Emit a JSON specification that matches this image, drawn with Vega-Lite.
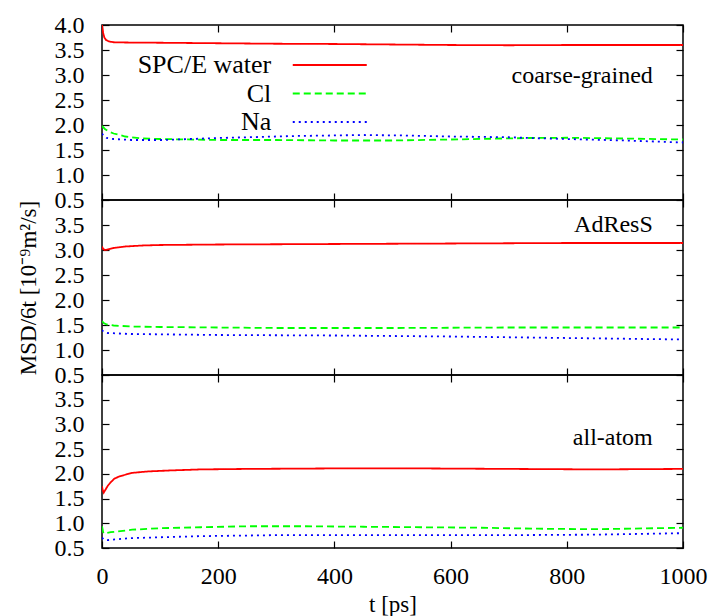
{
  "$schema": "https://vega.github.io/schema/vega-lite/v6.json",
  "padding": {"left": 16, "top": 12, "right": 5, "bottom": 2},
  "bounds": "flush",
  "spacing": 0,
  "config": {
    "font": "Liberation Serif",
    "view": {"stroke": "black", "strokeWidth": 1.5},
    "axis": {
      "grid": false, "domain": false, "tickColor": "black", "tickSize": -7, "tickWidth": 1.2,
      "labelFont": "Liberation Serif", "labelFontSize": 24, "labelColor": "black",
      "titleFont": "Liberation Serif", "titleFontSize": 23, "titleColor": "black", "titleFontWeight": "normal",
      "labelOverlap": false, "labelFlush": false
    },
    "text": {"font": "Liberation Serif", "fontSize": 24, "color": "black"}
  },
  "resolve": {"scale": {"color": "independent", "strokeDash": "independent"}},
  "datasets": {
    "msd": [
      {"p":"cg","s":"SPC/E water","t":0,"v":4.0},
      {"p":"cg","s":"SPC/E water","t":1,"v":3.92},
      {"p":"cg","s":"SPC/E water","t":2,"v":3.84},
      {"p":"cg","s":"SPC/E water","t":4,"v":3.75},
      {"p":"cg","s":"SPC/E water","t":7,"v":3.70},
      {"p":"cg","s":"SPC/E water","t":12,"v":3.67},
      {"p":"cg","s":"SPC/E water","t":20,"v":3.655},
      {"p":"cg","s":"SPC/E water","t":40,"v":3.65},
      {"p":"cg","s":"SPC/E water","t":100,"v":3.645},
      {"p":"cg","s":"SPC/E water","t":200,"v":3.635},
      {"p":"cg","s":"SPC/E water","t":300,"v":3.625},
      {"p":"cg","s":"SPC/E water","t":400,"v":3.62},
      {"p":"cg","s":"SPC/E water","t":500,"v":3.61},
      {"p":"cg","s":"SPC/E water","t":600,"v":3.60},
      {"p":"cg","s":"SPC/E water","t":700,"v":3.595},
      {"p":"cg","s":"SPC/E water","t":800,"v":3.60},
      {"p":"cg","s":"SPC/E water","t":900,"v":3.60},
      {"p":"cg","s":"SPC/E water","t":1000,"v":3.60},
      {"p":"cg","s":"Cl","t":0,"v":1.98},
      {"p":"cg","s":"Cl","t":5,"v":1.92},
      {"p":"cg","s":"Cl","t":10,"v":1.88},
      {"p":"cg","s":"Cl","t":20,"v":1.83},
      {"p":"cg","s":"Cl","t":40,"v":1.77},
      {"p":"cg","s":"Cl","t":70,"v":1.73},
      {"p":"cg","s":"Cl","t":100,"v":1.72},
      {"p":"cg","s":"Cl","t":200,"v":1.70},
      {"p":"cg","s":"Cl","t":300,"v":1.70},
      {"p":"cg","s":"Cl","t":400,"v":1.69},
      {"p":"cg","s":"Cl","t":500,"v":1.69},
      {"p":"cg","s":"Cl","t":600,"v":1.71},
      {"p":"cg","s":"Cl","t":735,"v":1.74},
      {"p":"cg","s":"Cl","t":800,"v":1.745},
      {"p":"cg","s":"Cl","t":900,"v":1.73},
      {"p":"cg","s":"Cl","t":1000,"v":1.71},
      {"p":"cg","s":"Na","t":0,"v":1.83},
      {"p":"cg","s":"Na","t":3,"v":1.78},
      {"p":"cg","s":"Na","t":8,"v":1.74},
      {"p":"cg","s":"Na","t":20,"v":1.72},
      {"p":"cg","s":"Na","t":50,"v":1.70},
      {"p":"cg","s":"Na","t":105,"v":1.70},
      {"p":"cg","s":"Na","t":200,"v":1.74},
      {"p":"cg","s":"Na","t":334,"v":1.78},
      {"p":"cg","s":"Na","t":450,"v":1.80},
      {"p":"cg","s":"Na","t":520,"v":1.79},
      {"p":"cg","s":"Na","t":600,"v":1.77},
      {"p":"cg","s":"Na","t":700,"v":1.755},
      {"p":"cg","s":"Na","t":735,"v":1.74},
      {"p":"cg","s":"Na","t":800,"v":1.72},
      {"p":"cg","s":"Na","t":900,"v":1.69},
      {"p":"cg","s":"Na","t":1000,"v":1.65},
      {"p":"ad","s":"SPC/E water","t":0,"v":3.07},
      {"p":"ad","s":"SPC/E water","t":2,"v":3.02},
      {"p":"ad","s":"SPC/E water","t":5,"v":3.0},
      {"p":"ad","s":"SPC/E water","t":10,"v":3.01},
      {"p":"ad","s":"SPC/E water","t":20,"v":3.04},
      {"p":"ad","s":"SPC/E water","t":40,"v":3.07},
      {"p":"ad","s":"SPC/E water","t":70,"v":3.09},
      {"p":"ad","s":"SPC/E water","t":100,"v":3.10},
      {"p":"ad","s":"SPC/E water","t":200,"v":3.11},
      {"p":"ad","s":"SPC/E water","t":400,"v":3.12},
      {"p":"ad","s":"SPC/E water","t":600,"v":3.13},
      {"p":"ad","s":"SPC/E water","t":800,"v":3.14},
      {"p":"ad","s":"SPC/E water","t":1000,"v":3.14},
      {"p":"ad","s":"Cl","t":0,"v":1.58},
      {"p":"ad","s":"Cl","t":3,"v":1.54},
      {"p":"ad","s":"Cl","t":8,"v":1.51},
      {"p":"ad","s":"Cl","t":20,"v":1.49},
      {"p":"ad","s":"Cl","t":50,"v":1.47},
      {"p":"ad","s":"Cl","t":100,"v":1.46},
      {"p":"ad","s":"Cl","t":300,"v":1.44},
      {"p":"ad","s":"Cl","t":500,"v":1.44},
      {"p":"ad","s":"Cl","t":700,"v":1.45},
      {"p":"ad","s":"Cl","t":1000,"v":1.45},
      {"p":"ad","s":"Na","t":0,"v":1.40},
      {"p":"ad","s":"Na","t":3,"v":1.36},
      {"p":"ad","s":"Na","t":10,"v":1.34},
      {"p":"ad","s":"Na","t":50,"v":1.32},
      {"p":"ad","s":"Na","t":200,"v":1.30},
      {"p":"ad","s":"Na","t":400,"v":1.29},
      {"p":"ad","s":"Na","t":600,"v":1.27},
      {"p":"ad","s":"Na","t":800,"v":1.24},
      {"p":"ad","s":"Na","t":1000,"v":1.21},
      {"p":"aa","s":"SPC/E water","t":0,"v":1.75},
      {"p":"aa","s":"SPC/E water","t":1,"v":1.68},
      {"p":"aa","s":"SPC/E water","t":3,"v":1.62},
      {"p":"aa","s":"SPC/E water","t":6,"v":1.68},
      {"p":"aa","s":"SPC/E water","t":10,"v":1.76},
      {"p":"aa","s":"SPC/E water","t":15,"v":1.83},
      {"p":"aa","s":"SPC/E water","t":21,"v":1.90},
      {"p":"aa","s":"SPC/E water","t":30,"v":1.95},
      {"p":"aa","s":"SPC/E water","t":52,"v":2.02},
      {"p":"aa","s":"SPC/E water","t":80,"v":2.05},
      {"p":"aa","s":"SPC/E water","t":120,"v":2.07},
      {"p":"aa","s":"SPC/E water","t":170,"v":2.09},
      {"p":"aa","s":"SPC/E water","t":250,"v":2.10},
      {"p":"aa","s":"SPC/E water","t":400,"v":2.11},
      {"p":"aa","s":"SPC/E water","t":550,"v":2.11},
      {"p":"aa","s":"SPC/E water","t":700,"v":2.10},
      {"p":"aa","s":"SPC/E water","t":850,"v":2.09},
      {"p":"aa","s":"SPC/E water","t":1000,"v":2.10},
      {"p":"aa","s":"Cl","t":0,"v":0.94},
      {"p":"aa","s":"Cl","t":2,"v":0.82},
      {"p":"aa","s":"Cl","t":4,"v":0.79},
      {"p":"aa","s":"Cl","t":15,"v":0.82},
      {"p":"aa","s":"Cl","t":52,"v":0.87},
      {"p":"aa","s":"Cl","t":100,"v":0.90},
      {"p":"aa","s":"Cl","t":170,"v":0.92},
      {"p":"aa","s":"Cl","t":250,"v":0.94},
      {"p":"aa","s":"Cl","t":350,"v":0.94},
      {"p":"aa","s":"Cl","t":450,"v":0.93},
      {"p":"aa","s":"Cl","t":550,"v":0.92},
      {"p":"aa","s":"Cl","t":650,"v":0.91},
      {"p":"aa","s":"Cl","t":750,"v":0.89},
      {"p":"aa","s":"Cl","t":850,"v":0.88},
      {"p":"aa","s":"Cl","t":1000,"v":0.91},
      {"p":"aa","s":"Na","t":0,"v":0.71},
      {"p":"aa","s":"Na","t":3,"v":0.67},
      {"p":"aa","s":"Na","t":10,"v":0.66},
      {"p":"aa","s":"Na","t":50,"v":0.70},
      {"p":"aa","s":"Na","t":170,"v":0.74},
      {"p":"aa","s":"Na","t":300,"v":0.76},
      {"p":"aa","s":"Na","t":500,"v":0.76},
      {"p":"aa","s":"Na","t":700,"v":0.76},
      {"p":"aa","s":"Na","t":850,"v":0.77},
      {"p":"aa","s":"Na","t":1000,"v":0.80}
    ]
  },
  "vconcat": [
    {
      "width": 581, "height": 175,
      "layer": [
        {
          "data": {"name": "msd"},
          "transform": [{"filter": "datum.p == 'cg'"}],
          "mark": {"type": "line", "strokeWidth": 1.8, "clip": true},
          "encoding": {
            "x": {"field": "t", "type": "quantitative", "scale": {"domain": [0, 1000], "nice": false},
                  "axis": {"orient": "bottom", "values": [0, 200, 400, 600, 800, 1000], "labels": false, "title": null}},
            "y": {"field": "v", "type": "quantitative", "scale": {"domain": [0.5, 4.0], "nice": false, "zero": false},
                  "axis": {"orient": "left", "values": [0.5, 1.0, 1.5, 2.0, 2.5, 3.0, 3.5, 4.0], "format": ".1f", "title": null, "labelPadding": 25, "minExtent": 62, "maxExtent": 62}},
            "color": {"field": "s", "type": "nominal",
                      "scale": {"domain": ["SPC/E water", "Cl", "Na"], "range": ["#ff0000", "#00ff00", "#0000ff"]},
                      "legend": {"orient": "none", "legendX": 192, "legendY": 27, "title": null, "symbolType": "M-4,0H4", "symbolSize": 342.25, "symbolOffset": 22.75, "symbolStrokeWidth": 2, "rowPadding": 2.5, "labelFontSize": 26, "labelFont": "Liberation Serif", "labelColor": "black", "labelAlign": "right", "labelOffset": -71.5, "labelLimit": 400, "padding": 0}},
            "strokeDash": {"field": "s", "type": "nominal",
                      "scale": {"domain": ["SPC/E water", "Cl", "Na"], "range": [[1, 0], [7, 4], [2, 4]]},
                      "legend": {"orient": "none", "legendX": 192, "legendY": 27, "title": null, "symbolType": "M-4,0H4", "symbolSize": 342.25, "symbolOffset": 22.75, "symbolStrokeWidth": 2, "rowPadding": 2.5, "labelFontSize": 26, "labelFont": "Liberation Serif", "labelColor": "black", "labelAlign": "right", "labelOffset": -71.5, "labelLimit": 400, "padding": 0}}
          }
        },
        {
          "data": {"values": [{"label": "coarse-grained"}]},
          "mark": {"type": "text", "align": "right", "baseline": "middle"},
          "encoding": {
            "x": {"datum": 948, "type": "quantitative", "axis": {"orient": "top", "values": [0, 200, 400, 600, 800, 1000], "labels": false, "title": null}},
            "y": {"datum": 2.98, "type": "quantitative", "axis": {"orient": "right", "values": [0.5, 1.0, 1.5, 2.0, 2.5, 3.0, 3.5, 4.0], "labels": false, "title": null}},
            "text": {"field": "label"}
          }
        }
      ],
      "resolve": {"axis": {"x": "independent", "y": "independent"}}
    },
    {
      "width": 581, "height": 175,
      "layer": [
        {
          "data": {"name": "msd"},
          "transform": [{"filter": "datum.p == 'ad'"}],
          "mark": {"type": "line", "strokeWidth": 1.8, "clip": true},
          "encoding": {
            "x": {"field": "t", "type": "quantitative", "scale": {"domain": [0, 1000], "nice": false},
                  "axis": {"orient": "bottom", "values": [0, 200, 400, 600, 800, 1000], "labels": false, "title": null}},
            "y": {"field": "v", "type": "quantitative", "scale": {"domain": [0.5, 4.0], "nice": false, "zero": false},
                  "axis": {"orient": "left", "values": [0.5, 1.0, 1.5, 2.0, 2.5, 3.0, 3.5], "format": ".1f", "title": "MSD/6t [10⁻⁹m²/s]", "titlePadding": 0, "labelPadding": 25, "minExtent": 62, "maxExtent": 62}},
            "color": {"field": "s", "type": "nominal",
                      "scale": {"domain": ["SPC/E water", "Cl", "Na"], "range": ["#ff0000", "#00ff00", "#0000ff"]}, "legend": null},
            "strokeDash": {"field": "s", "type": "nominal",
                      "scale": {"domain": ["SPC/E water", "Cl", "Na"], "range": [[1, 0], [7, 4], [2, 4]]}, "legend": null}
          }
        },
        {
          "data": {"values": [{"label": "AdResS"}]},
          "mark": {"type": "text", "align": "right", "baseline": "middle"},
          "encoding": {
            "x": {"datum": 948, "type": "quantitative", "axis": {"orient": "top", "values": [0, 200, 400, 600, 800, 1000], "labels": false, "title": null}},
            "y": {"datum": 3.5, "type": "quantitative", "axis": {"orient": "right", "values": [0.5, 1.0, 1.5, 2.0, 2.5, 3.0, 3.5], "labels": false, "title": null}},
            "text": {"field": "label"}
          }
        }
      ],
      "resolve": {"axis": {"x": "independent", "y": "independent"}}
    },
    {
      "width": 581, "height": 173,
      "layer": [
        {
          "data": {"name": "msd"},
          "transform": [{"filter": "datum.p == 'aa'"}],
          "mark": {"type": "line", "strokeWidth": 1.8, "clip": true},
          "encoding": {
            "x": {"field": "t", "type": "quantitative", "scale": {"domain": [0, 1000], "nice": false},
                  "axis": {"orient": "bottom", "values": [0, 200, 400, 600, 800, 1000], "format": "d", "title": "t [ps]", "labelPadding": 23, "titlePadding": 5}},
            "y": {"field": "v", "type": "quantitative", "scale": {"domain": [0.5, 4.0], "nice": false, "zero": false},
                  "axis": {"orient": "left", "values": [0.5, 1.0, 1.5, 2.0, 2.5, 3.0, 3.5], "format": ".1f", "title": null, "labelPadding": 25, "minExtent": 62, "maxExtent": 62}},
            "color": {"field": "s", "type": "nominal",
                      "scale": {"domain": ["SPC/E water", "Cl", "Na"], "range": ["#ff0000", "#00ff00", "#0000ff"]}, "legend": null},
            "strokeDash": {"field": "s", "type": "nominal",
                      "scale": {"domain": ["SPC/E water", "Cl", "Na"], "range": [[1, 0], [7, 4], [2, 4]]}, "legend": null}
          }
        },
        {
          "data": {"values": [{"label": "all-atom"}]},
          "mark": {"type": "text", "align": "right", "baseline": "middle"},
          "encoding": {
            "x": {"datum": 948, "type": "quantitative", "axis": {"orient": "top", "values": [0, 200, 400, 600, 800, 1000], "labels": false, "title": null}},
            "y": {"datum": 2.73, "type": "quantitative", "axis": {"orient": "right", "values": [0.5, 1.0, 1.5, 2.0, 2.5, 3.0, 3.5], "labels": false, "title": null}},
            "text": {"field": "label"}
          }
        }
      ],
      "resolve": {"axis": {"x": "independent", "y": "independent"}}
    }
  ]
}
